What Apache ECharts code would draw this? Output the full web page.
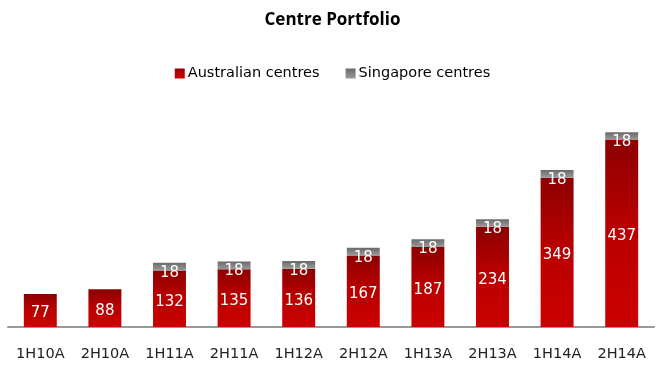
<!DOCTYPE html>
<html><head><meta charset="utf-8">
<script src="https://cdn.jsdelivr.net/npm/echarts@6/dist/echarts.min.js"></script>
<style>html,body{margin:0;padding:0;background:#fff}#c{width:665px;height:371px}</style>
</head><body><div id="c"></div>
<script>
var categories = ['1H10A','2H10A','1H11A','2H11A','1H12A','2H12A','1H13A','2H13A','1H14A','2H14A'];
var australian = [77, 88, 132, 135, 136, 167, 187, 234, 349, 437];
var singapore = [null, null, 18, 18, 18, 18, 18, 18, 18, 18];

var font = '"DejaVu Sans", Verdana, sans-serif';
var titleFont = '"Open Sans", "Noto Sans", sans-serif';
var redGrad = new echarts.graphic.LinearGradient(0,0,0,1,[{offset:0,color:'#8c0000'},{offset:0.45,color:'#b80000'},{offset:1,color:'#cc0000'}]);
var grayGrad = new echarts.graphic.LinearGradient(0,0,0,1,[{offset:0,color:'#6a6a6a'},{offset:1,color:'#9a9a9a'}]);

var chart = echarts.init(document.getElementById('c'), null, {renderer:'canvas'});
chart.setOption({
  animation: false,
  title: {text:'Centre Portfolio', left:'center', top:7,
    textStyle:{fontFamily:titleFont, fontSize:17, fontWeight:'bold', color:'#000'}},
  legend: {top:61, left:'center', itemWidth:10, itemHeight:10, itemGap:26, icon:'rect',
    textStyle:{fontFamily:font, fontSize:14.5, color:'#000', padding:[0,0,0,-2]},
    data:['Australian centres','Singapore centres']},
  grid: {left:8, right:11, top:113, bottom:44, containLabel:false},
  xAxis: {type:'category', data:categories,
    axisLine:{lineStyle:{color:'#999', width:2}}, axisTick:{show:false},
    axisLabel:{fontFamily:font, fontSize:14.5, color:'#222', margin:20}},
  yAxis: {type:'value', min:0, max:500, show:false, splitLine:{show:false}},
  series: [
    {name:'Australian centres', type:'bar', stack:'s', data:australian, barWidth:'51%',
      itemStyle:{color:redGrad},
      label:{show:true, position:'inside', offset:[0,3], color:'#fff', fontFamily:font, fontSize:15}},
    {name:'Singapore centres', type:'bar', stack:'s', data:singapore, barWidth:'51%',
      itemStyle:{color:grayGrad},
      label:{show:true, position:'inside', offset:[0,6], color:'#fff', fontFamily:font, fontSize:15}}
  ]
});
</script></body></html>
